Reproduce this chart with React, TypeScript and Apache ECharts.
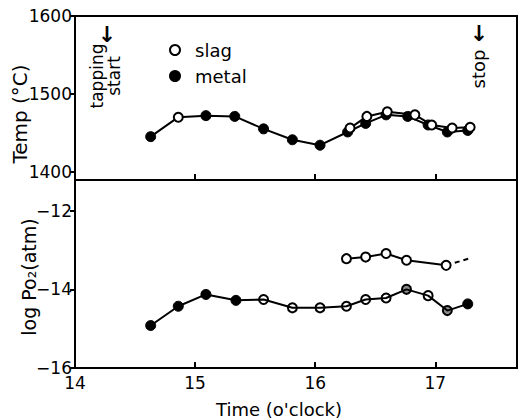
import React, { useEffect, useRef } from "react";
import * as echarts from "echarts";

// ---- Data ----
const timeTicks = [14, 15, 16, 17];
const tempTicks = [1400, 1500, 1600];
const po2Ticks = [-16, -14, -12];

// Temperature (top panel)
const tempMetalTime = [14.63, 14.86, 15.09, 15.33, 15.57, 15.81, 16.04, 16.27, 16.42, 16.59, 16.77, 16.94, 17.1, 17.27];
const tempMetal = [1445, 1470, 1472, 1471, 1455, 1441, 1434, 1451, 1462, 1473, 1471, 1460, 1451, 1453];
const tempMetalHollow = [1]; // indices drawn as open circles

const tempSlagTime = [16.29, 16.43, 16.6, 16.83, 16.97, 17.14, 17.29];
const tempSlag = [1456, 1471, 1477, 1473, 1460, 1456, 1457];

// log Po2 (bottom panel)
const po2LowTime = [14.63, 14.86, 15.09, 15.34, 15.57, 15.81, 16.04, 16.26, 16.42, 16.59, 16.76, 16.94, 17.1, 17.27];
const po2Low = [-14.92, -14.43, -14.13, -14.28, -14.26, -14.47, -14.47, -14.43, -14.26, -14.22, -14.0, -14.16, -14.54, -14.37];
const po2LowFilled = [0, 1, 2, 3, 13];
const po2LowGrey = [10, 12];

const po2SlagTime = [16.26, 16.42, 16.59, 16.76, 17.09];
const po2Slag = [-13.22, -13.18, -13.09, -13.26, -13.39];
const po2SlagExtTime = [17.09, 17.3];
const po2SlagExt = [-13.39, -13.2];

const FONT = "DejaVu Sans";

function zip(xs: number[], ys: number[]) {
  return xs.map((x, i) => [x, ys[i]]);
}

export default function App() {
  const ref = useRef<HTMLDivElement>(null);

  useEffect(() => {
    const chart = echarts.init(ref.current!, null, { renderer: "svg" });

    const axisLine = { show: true, lineStyle: { color: "#000", width: 2 } };
    const hollow = { color: "#fff", borderColor: "#000", borderWidth: 2 };
    const clear = { color: "rgba(255,255,255,0)", borderColor: "#000", borderWidth: 2 };
    const filled = { color: "#000", borderColor: "#000", borderWidth: 1 };

    const option: any = {
      animation: false,
      backgroundColor: "#fff",
      textStyle: { fontFamily: FONT, color: "#000" },
      grid: [
        { left: 75, right: 3, top: 16, height: 164, show: true, borderColor: "#000", borderWidth: 2 },
        { left: 75, right: 3, top: 180, height: 188, show: true, borderColor: "#000", borderWidth: 2 },
      ],
      xAxis: [
        {
          type: "value", gridIndex: 0, min: 14, max: 17.68,
          axisLine,
          axisTick: { show: true, inside: true, length: 6, lineStyle: { width: 2, color: "#000" }, customValues: [15, 16, 17] },
          axisLabel: { show: false },
          splitLine: { show: false },
        },
        {
          type: "value", gridIndex: 1, min: 14, max: 17.68,
          axisLine,
          axisTick: { show: true, inside: true, length: 6, lineStyle: { width: 2, color: "#000" }, customValues: [15, 16, 17] },
          axisLabel: {
            show: true, customValues: timeTicks, fontSize: 17, fontFamily: FONT, color: "#000", margin: 6,
            formatter: (v: number) => String(v),
          },
          splitLine: { show: false },
        },
      ],
      yAxis: [
        {
          type: "value", gridIndex: 0, min: 1389.3, max: 1600,
          axisLine,
          axisTick: { show: true, inside: false, length: 5, lineStyle: { width: 2, color: "#000" }, customValues: tempTicks },
          axisLabel: {
            show: true, customValues: tempTicks, fontSize: 17, fontFamily: FONT, color: "#000", margin: 3,
            formatter: (v: number) => String(v),
          },
          splitLine: { show: false },
        },
        {
          type: "value", gridIndex: 1, min: -16, max: -11.22,
          axisLine,
          axisTick: { show: true, inside: false, length: 5, lineStyle: { width: 2, color: "#000" }, customValues: po2Ticks },
          axisLabel: {
            show: true, customValues: po2Ticks, fontSize: 17, fontFamily: FONT, color: "#000", margin: 3,
            formatter: (v: number) => "\u2212" + Math.abs(v),
          },
          splitLine: { show: false },
        },
      ],
      legend: {
        orient: "vertical",
        left: 164,
        top: 36,
        data: ["slag", "metal"],
        icon: "circle",
        itemWidth: 10,
        itemHeight: 10,
        itemGap: 8,
        textStyle: { fontSize: 18, fontFamily: FONT, color: "#000", padding: [0, 0, 0, 10] },
        selectedMode: false,
      },
      series: [
        {
          name: "metal", type: "line", xAxisIndex: 0, yAxisIndex: 0, z: 2,
          symbol: "circle", symbolSize: 10,
          lineStyle: { color: "#000", width: 2 },
          itemStyle: filled,
          data: zip(tempMetalTime, tempMetal).map((v, i) =>
            tempMetalHollow.includes(i) ? { value: v, itemStyle: hollow, symbolSize: 9 } : { value: v }
          ),
        },
        {
          name: "slag", type: "line", xAxisIndex: 0, yAxisIndex: 0, z: 3,
          symbol: "circle", symbolSize: 9,
          lineStyle: { color: "#000", width: 2 },
          itemStyle: hollow,
          data: zip(tempSlagTime, tempSlag),
        },
        {
          name: "metal", type: "line", xAxisIndex: 1, yAxisIndex: 1, z: 2,
          symbol: "circle", symbolSize: 9,
          lineStyle: { color: "#000", width: 2 },
          itemStyle: clear,
          data: zip(po2LowTime, po2Low).map((v, i) => {
            if (po2LowFilled.includes(i)) return { value: v, itemStyle: filled, symbolSize: 10 };
            if (po2LowGrey.includes(i)) return { value: v, itemStyle: { color: "rgba(0,0,0,0.45)", borderColor: "#000", borderWidth: 2 } };
            return { value: v };
          }),
        },
        {
          name: "slag", type: "line", xAxisIndex: 1, yAxisIndex: 1, z: 3,
          symbol: "circle", symbolSize: 9,
          lineStyle: { color: "#000", width: 2 },
          itemStyle: hollow,
          data: zip(po2SlagTime, po2Slag),
        },
        {
          name: "slag (extrapolated)", type: "line", xAxisIndex: 1, yAxisIndex: 1, z: 1,
          showSymbol: false, symbol: "none",
          lineStyle: { color: "#000", width: 2, type: [5, 4] },
          data: zip(po2SlagExtTime, po2SlagExt),
        },
      ],
      graphic: [
        {
          type: "text", x: 20, y: 114, rotation: Math.PI / 2,
          style: { text: "Temp (°C)", font: `20px '${FONT}'`, fill: "#000", align: "center", verticalAlign: "middle" },
        },
        {
          type: "text", x: 29, y: 277, rotation: Math.PI / 2,
          style: { text: "log Po\u2082(atm)", font: `19px '${FONT}'`, fill: "#000", align: "center", verticalAlign: "middle" },
        },
        {
          type: "text", x: 279, y: 409,
          style: { text: "Time (o'clock)", font: `18px '${FONT}'`, fill: "#000", align: "center", verticalAlign: "middle" },
        },
        {
          type: "text", x: 105, y: 76, rotation: Math.PI / 2,
          style: { text: "tapping\nstart", font: `17px '${FONT}'`, lineHeight: 17, fill: "#000", align: "center", verticalAlign: "middle" },
        },
        {
          type: "text", x: 107, y: 34,
          style: { text: "\u2193", font: `bold 22px '${FONT}'`, fill: "#000", align: "center", verticalAlign: "middle" },
        },
        {
          type: "text", x: 478, y: 69, rotation: Math.PI / 2,
          style: { text: "stop", font: `18px '${FONT}'`, fill: "#000", align: "center", verticalAlign: "middle" },
        },
        {
          type: "text", x: 479, y: 33,
          style: { text: "\u2193", font: `bold 22px '${FONT}'`, fill: "#000", align: "center", verticalAlign: "middle" },
        },
      ],
    };

    chart.setOption(option);
    return () => chart.dispose();
  }, []);

  return (
    <div
      ref={ref}
      style={{ position: "fixed", left: 0, top: 0, width: 520, height: 420, background: "#fff" }}
    />
  );
}
